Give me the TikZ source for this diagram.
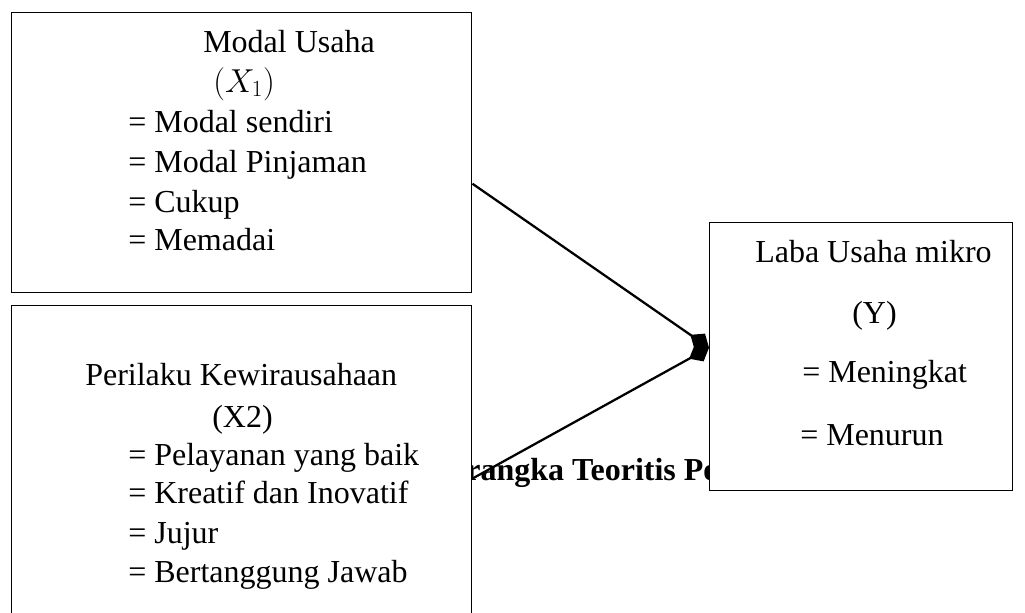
\documentclass[tikz,border=0pt]{standalone}
\usepackage{fontspec}
\setmainfont{Liberation Serif}
\usetikzlibrary{arrows.meta,positioning}

\begin{document}
\begin{tikzpicture}[x=0.75pt, y=-0.75pt,
  varbox/.style={draw, rectangle, line width=1.1pt, fill=white, anchor=north west, inner sep=0pt},
  txt/.style={anchor=base west, inner sep=0pt, font=\fontsize{24}{28}\selectfont},
  arr/.style={-{Diamond[length=17pt,width=14pt]}, line width=1.7pt}]
  \clip (0,0) rectangle (1025,612);

  \node[txt, font=\fontsize{24}{28}\selectfont\bfseries] (judul) at (427,480) {Kerangka Teoritis Penelitian};

  \node[varbox, minimum width=345pt, minimum height=210pt] (modal) at (11,12) {};
  \node[varbox, minimum width=345pt, minimum height=236pt] (perilaku) at (11,305) {};
  \node[varbox, minimum width=227pt, minimum height=201pt] (laba) at (709,222) {};

  \node[txt] (modalT) at (203,52) {Modal Usaha};
  \node[txt] (modalX) at (213,92) {$(X_1)$};
  \node[txt] (modalA) at (128,132) {= Modal sendiri};
  \node[txt] (modalB) at (128,172) {= Modal Pinjaman};
  \node[txt] (modalC) at (128,212) {= Cukup};
  \node[txt] (modalD) at (128,250) {= Memadai};

  \node[txt] (perilakuT) at (85,385) {Perilaku Kewirausahaan};
  \node[txt] (perilakuX) at (212,427) {(X2)};
  \node[txt] (perilakuA) at (128,465) {= Pelayanan yang baik};
  \node[txt] (perilakuB) at (128,503) {= Kreatif dan Inovatif};
  \node[txt] (perilakuC) at (128,543) {= Jujur};
  \node[txt] (perilakuD) at (128,582) {= Bertanggung Jawab};

  \node[txt] (labaT) at (755,262) {Laba Usaha mikro};
  \node[txt] (labaY) at (852,323) {(Y)};
  \node[txt] (labaA) at (802,382) {= Meningkat};
  \node[txt] (labaB) at (800,445) {= Menurun};

  \draw[arr] ([yshift=-23.25pt]modal.east) -- ([yshift=6.75pt]laba.west);
  \draw[arr] ([yshift=-11.6pt]perilaku.east) -- ([yshift=6.75pt]laba.west);
\end{tikzpicture}
\end{document}
